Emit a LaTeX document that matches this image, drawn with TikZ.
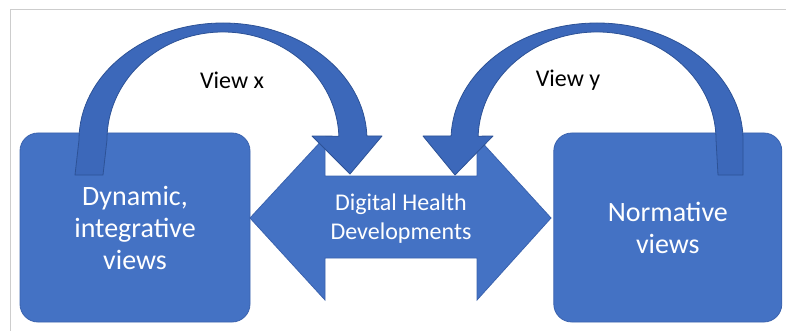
\documentclass[tikz,border=0pt]{standalone}
\usepackage{fontspec}
\setmainfont{Carlito}
\usetikzlibrary{positioning}
\definecolor{officeblue}{RGB}{68,114,196}
\definecolor{officeedge}{RGB}{58,98,174}
\definecolor{arcblue}{RGB}{60,104,186}
\definecolor{arcedge}{RGB}{45,82,150}
\definecolor{framegray}{RGB}{205,205,205}
\tikzset {
        viewbox/.style={align=center, inner sep=0pt, rectangle, rounded corners=18pt, fill=officeblue, draw=officeedge, line width=0.8pt, text=white, minimum width=230pt, minimum height=189pt, font=\fontsize{28}{32}\selectfont},
        arrowtext/.style={align=center, inner sep=0pt, text=white, font=\fontsize{24}{29}\selectfont},
        viewlabel/.style={inner sep=0pt, text=black, font=\fontsize{24}{29}\selectfont},
        bendarrow/.style={fill=arcblue, draw=arcedge, line width=0.8pt, line join=round},
        default/.style={}
}
\begin{document}
\begin{tikzpicture}[x=1pt, y=-1pt]
            \useasboundingbox (0,0) rectangle (786,331);
            \draw[framegray, line width=1pt] (10,331) -- (10,10) -- (786,10);

            \node[viewbox] (DynamicViews) at (135,227.5) {
                Dynamic,\\integrative\\views
            };
            \node[viewbox, minimum width=228pt, right=303pt of DynamicViews] (NormativeViews) {
                Normative\\views
            };

            % double arrow between the two views
            \path[fill=officeblue, draw=officeedge, line width=0.8pt] (250,218) -- (325,137) -- (325,176) -- (477,176) -- (477,137) -- (551,218) -- (477,300) -- (477,258) -- (325,258) -- (325,300) -- cycle;
            \node[arrowtext] (DigitalHealth) at (401,219) {
                Digital Health\\Developments
            };

            % curved arrows
            \path[bendarrow] (75,175) -- (79,140) arc[start angle=180, end angle=358, x radius=144, y radius=117] -- (382,136) -- (350,174) -- (312,136) -- (338.9,136.2) arc[start angle=358, end angle=180, x radius=116, y radius=108] -- (103,175) -- cycle;
            \path[bendarrow] (743,175) -- (743,140) arc[start angle=360, end angle=182, x radius=146, y radius=117] -- (423,136) -- (455,175) -- (493,136) -- (478.1,136.2) arc[start angle=182, end angle=360, x radius=119, y radius=108] -- (718,175) -- cycle;

            \node[viewlabel] (ViewX) at (232,80) {View x};
            \node[viewlabel] (ViewY) at (568,80) {View y};
        \end{tikzpicture}
\end{document}
